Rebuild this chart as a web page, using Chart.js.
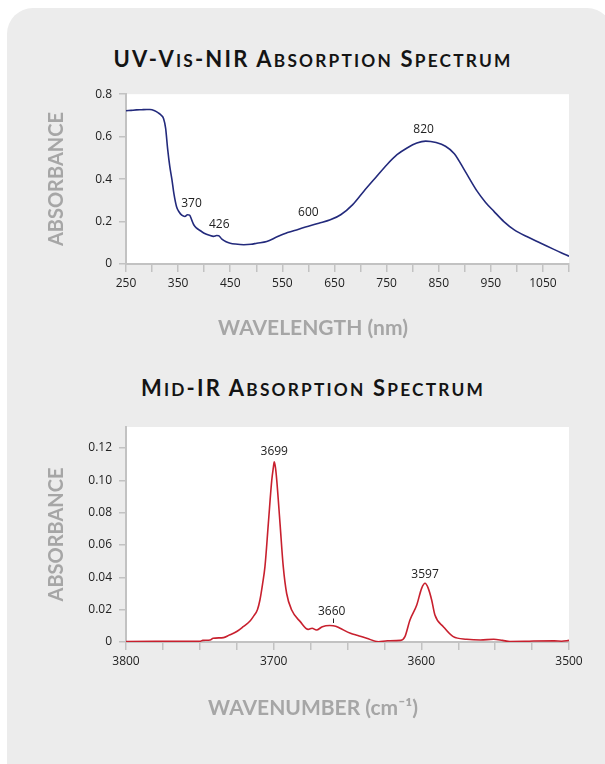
<!DOCTYPE html>
<html>
<head>
<meta charset="utf-8">
<script src="https://cdn.jsdelivr.net/npm/chart.js@4.4.1/dist/chart.umd.min.js"></script>
<style>
  html, body { margin:0; padding:0; background:#ffffff; width:605px; height:764px; overflow:hidden; }
  body { position:relative; }
  #panel { position:absolute; left:7px; top:8px; width:606px; height:800px; background:#ececec; border-radius:26px; }
  .ttl { position:absolute; left:0; width:626px; text-align:center; font-family:Lato, "Open Sans", sans-serif; font-weight:bold; color:#141414; font-size:22px; line-height:22px; white-space:nowrap; letter-spacing:2.2px; }
  .sc { font-size:17.3px; text-transform:uppercase; }
  .cw { position:absolute; left:16px; width:594px; }
  canvas { display:block; }
</style>
</head>
<body>
<div id="panel"></div>
<div class="ttl" style="top:48px">UV-V<span class="sc">is</span>-NIR A<span class="sc">bsorption</span> S<span class="sc">pectrum</span></div>
<div class="ttl" style="top:377px">M<span class="sc">id</span>-IR A<span class="sc">bsorption</span> S<span class="sc">pectrum</span></div>
<div class="cw" style="top:80px;height:270px"><canvas id="c1" width="594" height="270"></canvas></div>
<div class="cw" style="top:410px;height:315px"><canvas id="c2" width="594" height="315"></canvas></div>
<script>
// ---------- UV-Vis-NIR data ----------
const uvWavelength = [250,260,270,280,290,296,305,312,318,322,326,330,334,338,342,347,352,357,363,368,372,376,380,385,392,400,410,418,424,428,434,442,450,460,476,490,501,520,540,560,580,600,620,642,662,685,706,730,751,770,790,808,825,845,863,880,900,924,940,956,975,995,1020,1046,1070,1085,1100];
const uvAbsorbance = [0.722,0.724,0.726,0.727,0.728,0.728,0.722,0.712,0.700,0.685,0.640,0.540,0.460,0.400,0.330,0.270,0.245,0.230,0.224,0.232,0.230,0.208,0.185,0.170,0.158,0.145,0.135,0.130,0.134,0.133,0.117,0.105,0.098,0.094,0.091,0.093,0.098,0.106,0.128,0.148,0.163,0.178,0.192,0.208,0.232,0.280,0.342,0.410,0.469,0.515,0.548,0.570,0.579,0.572,0.555,0.520,0.440,0.342,0.290,0.248,0.200,0.161,0.128,0.098,0.070,0.053,0.037];
const uvXTicks = [250,300,350,400,450,500,550,600,650,700,750,800,850,900,950,1000,1050,1100];
const uvXTickLabels = [250,350,450,550,650,750,850,950,1050];
const uvYTicks = [0,0.2,0.4,0.6,0.8];
const uvYTickLabels = ['0','0.2','0.4','0.6','0.8'];
const uvPeakLabels = ['370','426','600','820'];
const uvPeakX = [370,426,600,820];
const uvPeakY = [0.232,0.133,0.178,0.579];

// ---------- Mid-IR data ----------
const irWavenumber = [3800,3780,3760,3750,3748,3743,3741,3734,3730,3725,3720.6,3716,3713.8,3711,3709.3,3707.5,3705.9,3703.6,3701.3,3700.2,3699.6,3698.8,3697.9,3695.7,3693.5,3691.2,3687.8,3682,3676.6,3674,3671,3667,3662,3658,3655,3648,3643,3637,3629,3623,3614,3611.1,3607.7,3603.1,3599.8,3597.5,3595.3,3593,3590.8,3585.1,3578.4,3569.3,3560,3551,3545,3540,3530,3524,3510,3505,3500];
const irAbsorbance = [0.0003,0.0004,0.0005,0.0004,0.0010,0.0012,0.0023,0.0027,0.0043,0.0065,0.0095,0.0130,0.0157,0.0200,0.0260,0.0360,0.0466,0.0734,0.1000,0.1080,0.1115,0.1080,0.1000,0.0734,0.0466,0.0300,0.0198,0.0126,0.0078,0.0085,0.0074,0.0095,0.0102,0.0098,0.0085,0.0054,0.0040,0.0023,0.0002,0.0008,0.0010,0.0033,0.0136,0.0229,0.0332,0.0363,0.0332,0.0260,0.0167,0.0095,0.0033,0.0017,0.0012,0.0017,0.0010,0.0003,0.0004,0.0006,0.0007,0.0005,0.0010];
const irXTicks = [3500,3525,3550,3575,3600,3625,3650,3675,3700,3725,3750,3775,3800];
const irXTickLabels = [3800,3700,3600,3500];
const irYTicks = [0,0.02,0.04,0.06,0.08,0.10,0.12];
const irYTickLabels = ['0','0.02','0.04','0.06','0.08','0.10','0.12'];
const irPeakLabels = ['3699','3660','3597'];
const irPeakX = [3699.6,3660,3597.5];
const irPeakY = [0.1115,0.0102,0.0363];

const AXIS_GREY = '#c2c2c2';
const TITLE_GREY = '#a6a6a6';
const TICK_FONT = {family:'"Open Sans", "Noto Sans", sans-serif', size:12};

const whiteArea = {
  id:'whiteArea',
  beforeDraw(chart){
    const {ctx, chartArea:a} = chart;
    ctx.save(); ctx.fillStyle = '#ffffff';
    ctx.fillRect(a.left, a.top, a.right - a.left, a.bottom - a.top);
    ctx.restore();
  }
};

function peakLabelPlugin(labels, xs, ys, offsets, markers){
  return {
    id:'peakLabels',
    afterDatasetsDraw(chart){
      const ctx = chart.ctx, xs_ = chart.scales.x, ys_ = chart.scales.y;
      ctx.save();
      ctx.fillStyle = '#222'; ctx.strokeStyle = '#222'; ctx.lineWidth = 1;
      ctx.font = '12px "Open Sans", "Noto Sans", sans-serif';
      ctx.textAlign = 'center'; ctx.textBaseline = 'middle';
      labels.forEach((t,i)=>{
        const px = xs_.getPixelForValue(xs[i]);
        const py = ys_.getPixelForValue(ys[i]);
        ctx.fillText(t, px + offsets[i][0], py + offsets[i][1]);
        if (markers[i]) {
          ctx.beginPath();
          ctx.moveTo(Math.round(px)+0.5, py - 7);
          ctx.lineTo(Math.round(px)+0.5, py - 2.5);
          ctx.stroke();
        }
      });
      ctx.restore();
    }
  };
}

function makeChart(id, cfg){
  const pts = cfg.xs.map((x,i)=>({x:x, y:cfg.ys[i]}));
  return new Chart(document.getElementById(id), {
    type:'line',
    data:{ datasets:[{ data:pts, borderColor:cfg.color, borderWidth:1.6, pointRadius:0, fill:false, cubicInterpolationMode:'monotone' }] },
    options:{
      responsive:false, animation:false, devicePixelRatio:1,
      layout:{ padding:{ top:cfg.padTop, left:0, right:0, bottom:0 } },
      plugins:{
        legend:{display:false}, tooltip:{enabled:false}, title:{display:false},
        subtitle:{ display:true, position:'bottom', text:cfg.xTitle, color:TITLE_GREY,
          font:{family:'Lato, "Open Sans", sans-serif', size:21, weight:'bold', lineHeight:'24px'},
          padding:{top:0, bottom:cfg.subPad} }
      },
      scales:{
        x:{
          type:'linear', position:'bottom', min:cfg.xMin, max:cfg.xMax, reverse:cfg.reverse,
          afterBuildTicks(s){ s.ticks = cfg.xTicks.map(v=>({value:v})); },
          afterFit(s){ s.height = cfg.xHeight; },
          ticks:{ autoSkip:false, maxRotation:0, color:'#222', font:TICK_FONT, padding:4,
            callback:(v)=> cfg.xLabels.includes(v) ? String(v) : '' },
          grid:{ drawOnChartArea:false, drawTicks:true, tickLength:8, color:AXIS_GREY, lineWidth:1.5 },
          border:{ display:true, color:AXIS_GREY, width:2 }
        },
        y:{
          type:'linear', position:'left', min:0, max:cfg.yMax,
          afterBuildTicks(s){ s.ticks = cfg.yTicks.map(v=>({value:v})); },
          afterFit(s){ s.width = 110; },
          ticks:{ autoSkip:false, color:'#222', font:TICK_FONT, padding:7,
            callback:(v)=>{ const k = cfg.yTicks.findIndex(t=>Math.abs(t-v)<1e-9); return k>=0 ? cfg.yLabels[k] : ''; } },
          grid:{ drawOnChartArea:false, drawTicks:true, tickLength:7, color:AXIS_GREY, lineWidth:1.5 },
          border:{ display:true, color:AXIS_GREY, width:2 },
          title:{ display:true, text:'ABSORBANCE', color:TITLE_GREY,
            font:{family:'Lato, "Open Sans", sans-serif', size:20, weight:'bold', lineHeight:'24px'},
            padding:{top:29, bottom:0} }
        },
        yR:{
          type:'linear', position:'right', display:true,
          afterFit(s){ s.width = 41; },
          ticks:{display:false}, grid:{display:false}, border:{display:false}
        }
      }
    },
    plugins:[whiteArea, peakLabelPlugin(cfg.pl, cfg.px, cfg.py, cfg.off, cfg.mark)]
  });
}

makeChart('c1', {
  xs:uvWavelength, ys:uvAbsorbance, color:'#232a7c',
  xMin:250, xMax:1100, reverse:false, xTicks:uvXTicks, xLabels:uvXTickLabels,
  yMax:0.8, yTicks:uvYTicks, yLabels:uvYTickLabels,
  padTop:14, xHeight:52, subPad:10, xTitle:'WAVELENGTH (nm)',
  pl:uvPeakLabels, px:uvPeakX, py:uvPeakY,
  off:[[3,-11],[1.5,-11],[0,-14],[0.5,-12]], mark:[false,false,false,false]
});

makeChart('c2', {
  xs:irWavenumber, ys:irAbsorbance, color:'#c8202e',
  xMin:3500, xMax:3800, reverse:true, xTicks:irXTicks, xLabels:irXTickLabels,
  yMax:0.133, yTicks:irYTicks, yLabels:irYTickLabels,
  padTop:17, xHeight:54, subPad:5, xTitle:'WAVENUMBER (cm\u207B\u00B9)',
  pl:irPeakLabels, px:irPeakX, py:irPeakY,
  off:[[0,-10],[-1,-13.5],[0,-9]], mark:[false,true,false]
});
</script>
</body>
</html>
